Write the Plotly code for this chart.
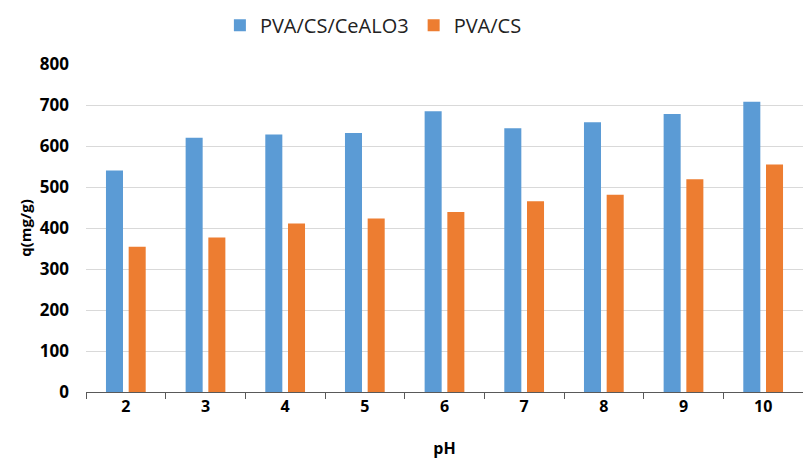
import plotly.graph_objects as go

ph_levels = ["2", "3", "4", "5", "6", "7", "8", "9", "10"]
q_pva_cs_cealo3 = [540, 620, 628, 632, 685, 643, 658, 678, 708]
q_pva_cs = [354, 377, 411, 423, 439, 465, 481, 519, 555]
y_ticks = [0, 100, 200, 300, 400, 500, 600, 700, 800]

BLUE = "#5b9bd5"
ORANGE = "#ed7d31"
FONT = "Open Sans"

fig = go.Figure()
fig.add_trace(go.Bar(name="PVA/CS/CeALO3", x=ph_levels, y=q_pva_cs_cealo3,
                     marker=dict(color=BLUE, line=dict(width=0))))
fig.add_trace(go.Bar(name="PVA/CS", x=ph_levels, y=q_pva_cs,
                     marker=dict(color=ORANGE, line=dict(width=0))))

fig.update_layout(
    width=803, height=459,
    margin=dict(l=86, r=0, t=64, b=65),
    paper_bgcolor="white", plot_bgcolor="white",
    barmode="group", bargap=0.43, bargroupgap=0.25,
    font=dict(family=FONT, color="black"),
    legend=dict(orientation="h", xref="container", x=0.465, xanchor="center",
                yref="container", y=0.945, yanchor="middle",
                font=dict(size=20, family=FONT, color="#222"),
                itemwidth=30, traceorder="normal"),
    showlegend=True,
)

fig.update_xaxes(
    type="category", tickson="boundaries", ticks="outside", ticklen=6,
    tickcolor="#595959", tickwidth=1.3,
    showline=True, linecolor="#595959", linewidth=1.3,
    showgrid=False,
    tickfont=dict(size=16, family=FONT, weight="bold", color="black"),
    title=dict(text="<b>pH</b>", font=dict(size=16, family=FONT), standoff=30),
)
fig.update_yaxes(
    range=[0, 800], tickvals=y_ticks, showline=False, zeroline=False,
    showgrid=True, gridcolor="#d9d9d9", gridwidth=1.3,
    ticks="", ticklabelstandoff=16,
    tickfont=dict(size=17, family=FONT, weight="bold", color="black"),
    title=dict(text="<b>q(mg/g)</b>", font=dict(size=15, family=FONT), standoff=4),
)

fig.write_html("out.html")
